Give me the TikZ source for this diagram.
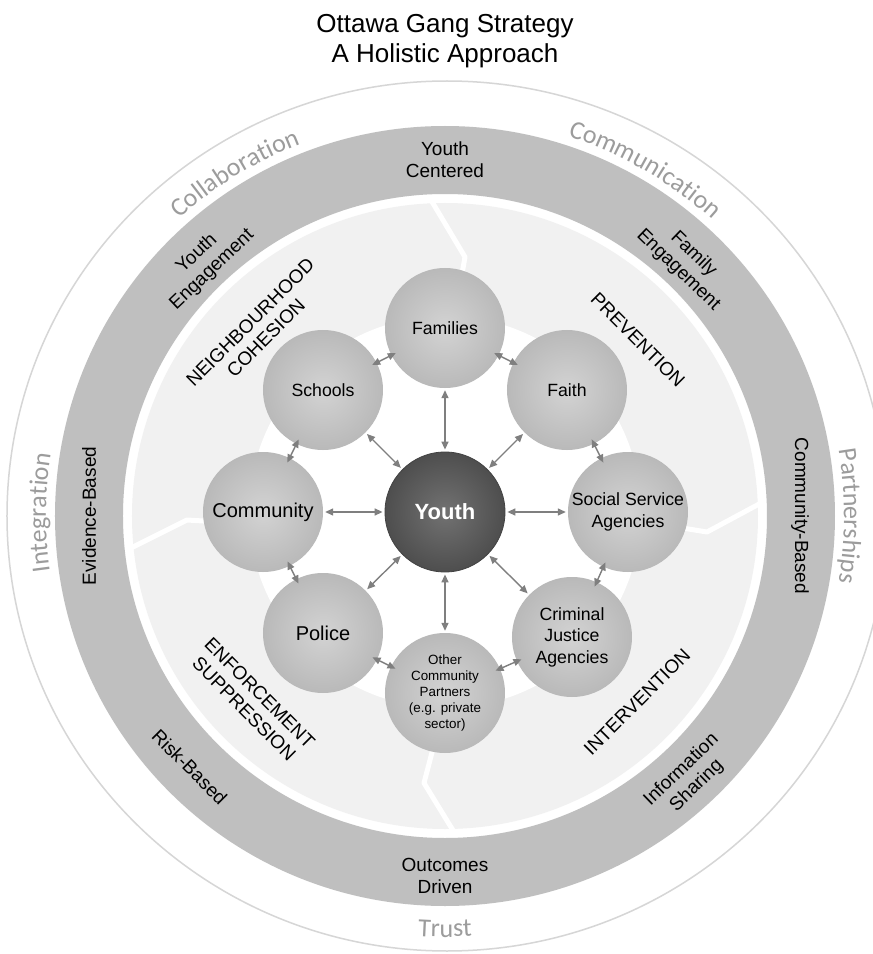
\documentclass[tikz,border=0pt]{standalone}
\usepackage{fontspec}
\setmainfont{Liberation Sans}
\newfontfamily\calib{Carlito}
\usetikzlibrary{arrows.meta,decorations.text,shadings}
\definecolor{ringgray}{HTML}{BFBFBF}
\definecolor{lightbg}{HTML}{F1F1F1}
\definecolor{thincirc}{HTML}{D6D6D6}
\definecolor{outertxt}{HTML}{9C9C9C}
\definecolor{arrowgray}{HTML}{7F7F7F}
\definecolor{cin}{HTML}{D3D3D3}
\definecolor{cout}{HTML}{B9B9B9}
\definecolor{yin}{HTML}{727272}
\definecolor{yout}{HTML}{4E4E4E}
\tikzset{
  circ/.style={circle, minimum size=120pt, inner sep=0pt, shade, inner color=cin, outer color=cout, align=center, font=\fontsize{17.7}{21.5}\selectfont},
  biarrow/.style={arrowgray, line width=1.4pt, {Triangle[length=8pt,width=7pt]}-{Triangle[length=8pt,width=7pt]}, shorten <=2pt, shorten >=2pt},
  sidearrow/.style={biarrow, shorten <=-5pt, shorten >=-5pt},
  ringtxt/.style={align=center, font=\fontsize{19}{22}\selectfont},
  quadtxt/.style={align=center, font=\fontsize{19}{22}\selectfont},
  divider/.style={white, line width=5pt, line join=round, line cap=round},
}
\begin{document}
\begin{tikzpicture}[x=1pt,y=1pt]
\useasboundingbox (-445,-438) rectangle (428,516);
\fill[white] (-445,-438) rectangle (428,516);
% title
\node[anchor=base, font=\fontsize{26}{30}\selectfont] (title1) at (0,483) {Ottawa Gang Strategy};
\node[anchor=base, font=\fontsize{26}{30}\selectfont] (title2) at (0,453) {A Holistic Approach};
% rings
\draw[thincirc, line width=1.5pt] (2,0) ellipse[x radius=440, y radius=435];
\fill[ringgray, even odd rule] (0,0) circle[radius=390] (0,0) circle[radius=322];
\fill[lightbg] (0,0) circle[radius=313];
% dividers
\draw[divider] (-14,316) -- (20,259) -- (14,225);
\draw[divider] (316,13) -- (262,-16) -- (225,-10);
\draw[divider] (9,-316) -- (-21,-267) -- (-10,-225);
\draw[divider] (-316,-33) -- (-258,-4) -- (-225,-6);
% white disk
\fill[white] (0,4) circle[radius=196];
% outer words
\path[decorate, decoration={text along path, text align=center, text color=outertxt, text={|\calib\fontsize{26}{26}\selectfont|Collaboration}}] (151:399) arc[start angle=151, end angle=92, radius=399];
\path[decorate, decoration={text along path, text align=center, text color=outertxt, text={|\calib\fontsize{26}{26}\selectfont|Communication}}] (89:399) arc[start angle=89, end angle=31, radius=399];
\path[decorate, decoration={text along path, text align=center, text color=outertxt, text={|\calib\fontsize{26}{26}\selectfont|Integration}}] (209:399) arc[start angle=209, end angle=150, radius=399];
\path[decorate, decoration={text along path, text align=center, text color=outertxt, text={|\calib\fontsize{26}{26}\selectfont|Partnerships}}] (30:399) arc[start angle=30, end angle=-30, radius=399];
\path[decorate, decoration={text along path, text align=center, text color=outertxt, text={|\calib\fontsize{26}{26}\selectfont|Trust}}] (250:421) arc[start angle=250, end angle=290, radius=421];
% ring texts
\node[ringtxt] (yc) at (0,356) {Youth\\Centered};
\node[ringtxt] (od) at (0,-360) {Outcomes\\Driven};
\node[ringtxt, rotate=90] (eb) at (-356,0) {Evidence-Based};
\node[ringtxt, rotate=-90] (cb) at (355,0) {Community-Based};
\node[ringtxt, rotate=-44] (fe) at (46.5:350) {Family\\Engagement};
\node[ringtxt, rotate=43.5] (ye) at (133.4:350) {Youth\\Engagement};
\node[ringtxt, rotate=44] (is) at (-47:358) {Information\\Sharing};
\node[ringtxt, rotate=-45] (rb) at (224.5:358) {Risk-Based};
% quadrant labels
\node[quadtxt, rotate=45] (nc) at (-187,186) {NEIGHBOURHOOD\\COHESION};
\node[quadtxt, rotate=-45] (pv) at (193,176) {PREVENTION};
\node[quadtxt, rotate=-45] (es) at (-193,-185) {ENFORCEMENT\\SUPPRESSION};
\node[quadtxt, rotate=45] (iv) at (192,-186) {INTERVENTION};
% circles
\node[circ, inner color=yin, outer color=yout, draw=yout!85!black, line width=0.8pt, text=white, font=\bfseries\fontsize{22}{26}\selectfont] (youth) at (0,4) {Youth};
\node[circ] (fam) at (0,188) {Families};
\node[circ] (sch) at (-122,126) {Schools};
\node[circ] (fai) at (122,126) {Faith};
\node[circ, font=\fontsize{20}{24}\selectfont] (com) at (-182,4) {Community};
\node[circ] (soc) at (183,4) {Social Service\\Agencies};
\node[circ, font=\fontsize{20}{24}\selectfont] (pol) at (-122,-117) {Police};
\node[circ] (cri) at (127,-121) {Criminal\\Justice\\Agencies};
\node[circ, font=\fontsize{13.4}{16}\selectfont] (oth) at (0,-177) {Other\\Community\\Partners\\(e.g. private\\sector)};
% arrows
\foreach \n in {fam,sch,fai,com,soc,pol,cri,oth} {\draw[biarrow] (youth) -- (\n);}
\draw[sidearrow] (sch) -- (fam);
\draw[sidearrow] (fam) -- (fai);
\draw[sidearrow] (com) -- (sch);
\draw[sidearrow] (fai) -- (soc);
\draw[sidearrow] (pol) -- (com);
\draw[sidearrow] (soc) -- (cri);
\draw[sidearrow] (oth) -- (pol);
\draw[sidearrow] (cri) -- (oth);
\end{tikzpicture}
\end{document}
